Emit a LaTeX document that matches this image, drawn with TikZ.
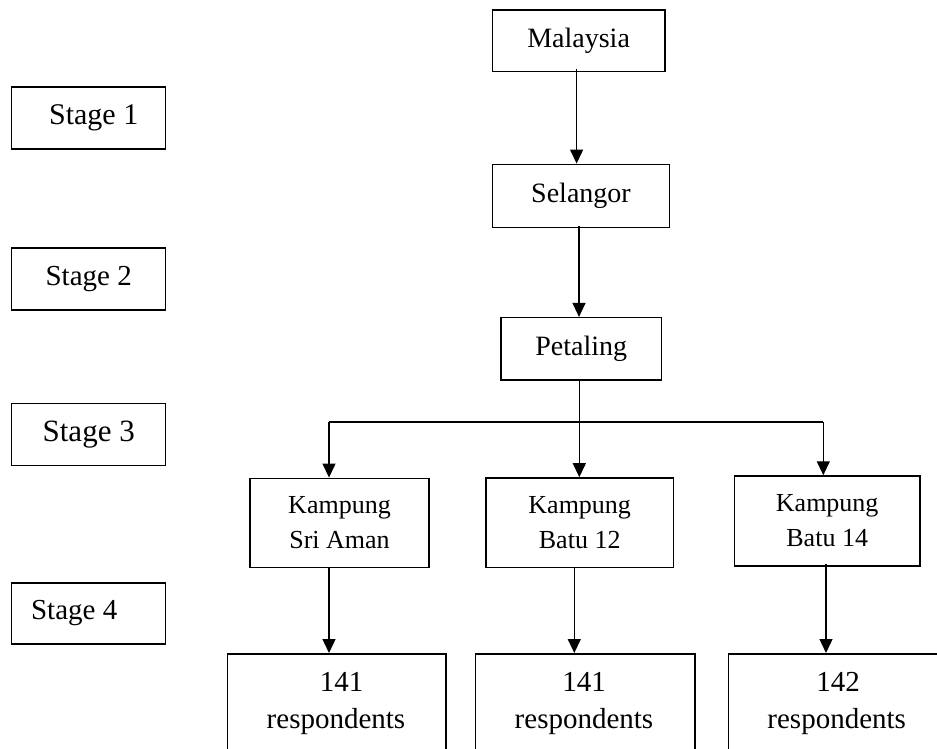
\documentclass[tikz,border=0pt]{standalone}
\usepackage{fontspec}
\setmainfont{Liberation Serif}
\usetikzlibrary{arrows.meta}
\begin{document}
\begin{tikzpicture}[x=1pt,y=-1pt,
  box/.style={draw, line width=1.5pt, inner sep=0pt, align=center},
  txt/.style={inner sep=0pt, anchor=base},
  conn/.style={line width=1.3pt},
  arr/.style={line width=1.3pt, -{Triangle[length=14pt,width=13pt]}},
  fs/.style={font=\fontsize{#1}{36}\selectfont}]
\useasboundingbox (0,0) rectangle (937,749);
\clip (0,0) rectangle (937,749);
\fill[white] (0,0) rectangle (937,749);

% stage boxes
\node[box, minimum width=154pt, minimum height=62pt, fs=30] (s1) at (88.7,118) {\hspace*{10pt}Stage 1};
\node[box, minimum width=154pt, minimum height=62pt, fs=29] (s2) at (88.7,279) {Stage 2};
\node[box, minimum width=154pt, minimum height=62pt, fs=31] (s3) at (88.7,434.5) {Stage 3};
\node[box, minimum width=154pt, minimum height=61pt, fs=29] (s4) at (88.7,613.5) {Stage 4\hspace*{29pt}};

% hierarchy
\node[box, minimum width=172.7pt, minimum height=61.7pt, fs=28] (mal) at (578.6,40.8) {Malaysia};
\node[box, minimum width=176.6pt, minimum height=63pt, fs=28] (sel) at (581,195.8) {Selangor};
\node[box, minimum width=160.7pt, minimum height=62.3pt, fs=28] (pet) at (581.3,348.8) {Petaling};

\node[box, minimum width=179pt, minimum height=89.4pt, font=\fontsize{26}{35}\selectfont] (k1) at (339.5,523) {Kampung\\Sri Aman};
\node[box, minimum width=187.3pt, minimum height=89.7pt, font=\fontsize{26}{35}\selectfont] (k2) at (579.7,522.8) {Kampung\\Batu 12};
\node[box, minimum width=185.7pt, minimum height=90pt, font=\fontsize{26}{35}\selectfont] (k3) at (827.2,521) {Kampung\\Batu 14};

% respondent boxes (cut off at the bottom of the picture)
\node[box, minimum width=218.7pt, minimum height=150pt, anchor=north] (r1) at (336.7,653) {};
\node[box, minimum width=219.3pt, minimum height=150pt, anchor=north] (r2) at (585.3,653) {};
\node[box, minimum width=217.7pt, minimum height=150pt, anchor=north] (r3) at (837.2,653) {};
\node[txt, fs=29] (r1a) at (341.7,691) {141};
\node[txt, fs=29] (r1b) at (336,728) {respondents};
\node[txt, fs=29] (r2a) at (584,691) {141};
\node[txt, fs=29] (r2b) at (584,728) {respondents};
\node[txt, fs=29] (r3a) at (838,691) {142};
\node[txt, fs=29] (r3b) at (836.7,728) {respondents};

% connectors
\draw[arr] ([xshift=-2pt,yshift=3pt]mal.south) -- ([xshift=-2pt]mal.south |- sel.north);
\draw[arr] ([xshift=-2pt,yshift=2pt]sel.south) -- ([xshift=-2pt]sel.south |- pet.north);
\coordinate (split) at ([xshift=-2pt]pet.south |- 0,422);
\coordinate (hl) at (329,422);
\coordinate (hr) at (823.3,422);
\draw[conn] ([xshift=-2pt]pet.south) -- (split);
\draw[conn] (hl) -- (hr);
\draw[arr] (hl) -- (hl |- k1.north);
\draw[arr] (split) -- (split |- k2.north);
\draw[arr] (hr) -- (hr |- k3.north);
\coordinate (k1b) at (k1.south -| hl);
\coordinate (k2b) at ([xshift=-5.4pt]k2.south);
\coordinate (k3b) at ([xshift=-1.2pt,yshift=3pt]k3.south);
\draw[arr] (k1b) -- (k1b |- r1.north);
\draw[arr] (k2b) -- (k2b |- r2.north);
\draw[arr] (k3b) -- (k3b |- r3.north);
\end{tikzpicture}
\end{document}
